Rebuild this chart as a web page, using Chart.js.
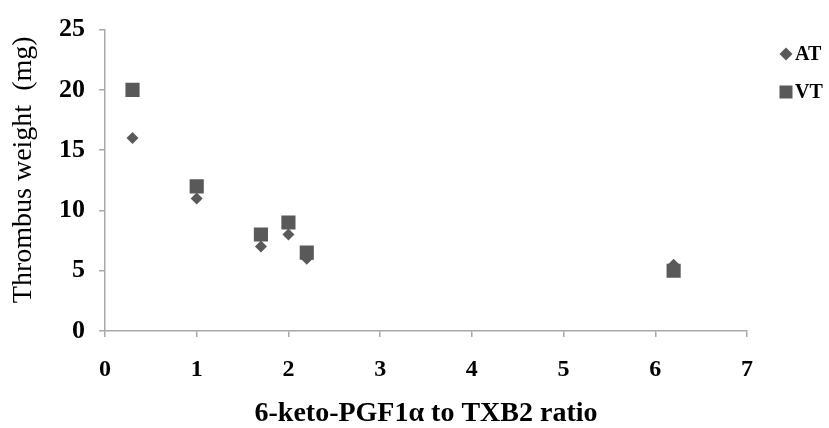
<!DOCTYPE html>
<html>
<head>
<meta charset="utf-8">
<script src="https://cdn.jsdelivr.net/npm/chart.js@4"></script>
<style>
  html, body { margin: 0; padding: 0; background: #fff; }
  canvas { display: block; }
</style>
</head>
<body>
<canvas id="thrombusChart" width="829" height="428"></canvas>
<script>
// valores
const ratioAT = [0.3, 1, 1.7, 2, 2.2, 6.2];
const weightAT = [16, 11, 7, 8, 6, 5.5];
const ratioVT = [0.3, 1, 1.7, 2, 2.2, 6.2];
const weightVT = [20, 12, 8, 9, 6.5, 5];
const seriesNames = ['AT', 'VT'];

const markerColor = '#595959';
const axisColor = '#a8a8a8';
const serif = "'Liberation Serif', 'Times New Roman', serif";

function toPoints(xs, ys) {
    return xs.map((x, i) => ({ x: x, y: ys[i] }));
}

// legenda simples à direita (desenhada no canvas)
const sideLegend = {
    id: 'sideLegend',
    afterDraw(chart) {
        const ctx = chart.ctx;
        const items = [
            { style: 'rectRot', radius: 6.5, y: 54 },
            { style: 'rect', radius: 9.2, y: 92 }
        ];
        ctx.save();
        ctx.font = "bold 20px " + serif;
        ctx.textBaseline = 'middle';
        items.forEach((it, i) => {
            ctx.fillStyle = markerColor;
            ctx.strokeStyle = markerColor;
            Chart.helpers.drawPoint(ctx, { pointStyle: it.style, radius: it.radius, rotation: 0, borderWidth: 0 }, 786, it.y);
            ctx.fillStyle = '#000';
            ctx.fillText(seriesNames[i], 795, it.y + 1);
        });
        ctx.restore();
    }
};

const ctx = document.getElementById('thrombusChart').getContext('2d');
const thrombusChart = new Chart(ctx, {
    type: 'scatter',
    data: {
        datasets: [
            {
                label: seriesNames[1],
                data: toPoints(ratioVT, weightVT),
                pointStyle: 'rect',
                pointRadius: 10,
                pointHoverRadius: 10,
                backgroundColor: markerColor,
                borderColor: markerColor,
                borderWidth: 0
            },
            {
                label: seriesNames[0],
                data: toPoints(ratioAT, weightAT),
                pointStyle: 'rectRot',
                pointRadius: 6,
                pointHoverRadius: 6,
                backgroundColor: markerColor,
                borderColor: markerColor,
                borderWidth: 0
            }
        ]
    },
    options: {
        responsive: false,
        animation: false,
        layout: { padding: { top: 24, right: 82, left: 0, bottom: 0 } },
        plugins: {
            legend: { display: false },
            tooltip: { enabled: false }
        },
        scales: {
            x: {
                type: 'linear',
                min: 0,
                max: 7,
                ticks: { stepSize: 1, padding: 18, color: '#000', font: { family: serif, size: 24, weight: 'bold' } },
                grid: { drawOnChartArea: false, drawTicks: true, tickLength: 6, color: axisColor, lineWidth: 1.5 },
                border: { display: true, color: axisColor, width: 1.5 },
                title: {
                    display: true,
                    text: '6-keto-PGF1\u03b1 to TXB2 ratio',
                    color: '#000',
                    font: { family: serif, size: 28, weight: 'bold', lineHeight: 1 },
                    padding: { top: 0, bottom: 0 }
                },
                afterFit(scale) { scale.height = 97; }
            },
            y: {
                min: 0,
                max: 25,
                ticks: { stepSize: 5, padding: 14, color: '#000', font: { family: serif, size: 26, weight: 'bold' } },
                grid: { drawOnChartArea: false, drawTicks: true, tickLength: 6, color: axisColor, lineWidth: 1.5 },
                border: { display: true, color: axisColor, width: 1.5 },
                title: {
                    display: true,
                    text: '   Thrombus weight  (mg)',
                    color: '#000',
                    font: { family: serif, size: 28, weight: 'normal' },
                    padding: { top: 7, bottom: 0 }
                },
                afterFit(scale) { scale.width = 105; }
            }
        }
    },
    plugins: [sideLegend]
});
</script>
</body>
</html>
